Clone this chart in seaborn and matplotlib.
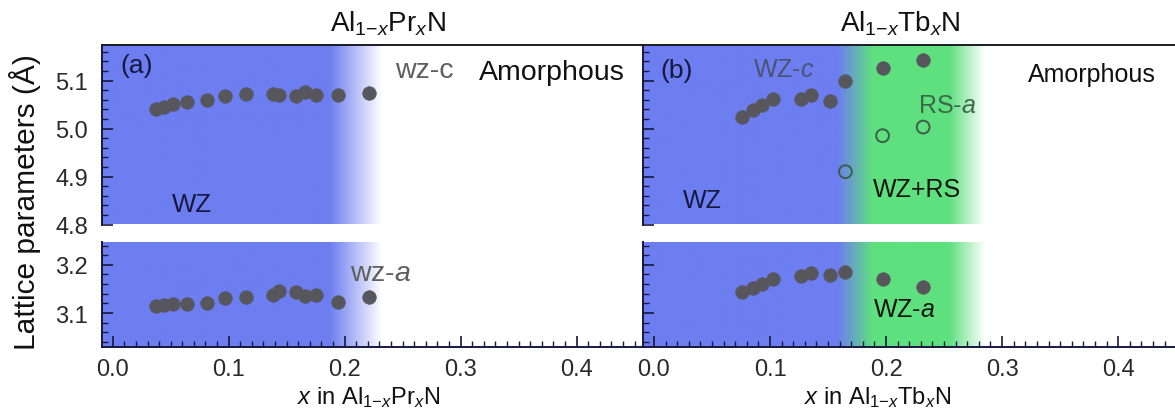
import numpy as np
import pandas as pd
import matplotlib
matplotlib.use("Agg")
import matplotlib.pyplot as plt
import seaborn as sns
from matplotlib.ticker import MultipleLocator, FormatStrFormatter
from matplotlib.colors import to_rgb

# ---------------- data ----------------
pr_x = [0.037, 0.044, 0.052, 0.064, 0.081, 0.097, 0.115, 0.138, 0.143, 0.158, 0.166, 0.175, 0.194, 0.221]
pr_c = [5.041, 5.045, 5.051, 5.055, 5.060, 5.068, 5.071, 5.072, 5.069, 5.067, 5.076, 5.069, 5.070, 5.074]
pr_a = [3.114, 3.117, 3.119, 3.119, 3.120, 3.132, 3.134, 3.137, 3.146, 3.143, 3.136, 3.138, 3.123, 3.133]

tb_x = [0.076, 0.085, 0.093, 0.103, 0.127, 0.135, 0.152, 0.165, 0.197, 0.232]
tb_c = [5.025, 5.038, 5.048, 5.062, 5.062, 5.070, 5.058, 5.098, 5.126, 5.143]
tb_a = [3.144, 3.151, 3.160, 3.170, 3.176, 3.184, 3.179, 3.186, 3.170, 3.154]
tb_rs_x = [0.165, 0.197, 0.232]
tb_rs_a = [4.910, 4.985, 5.003]

top_ticks = [4.8, 4.9, 5.0, 5.1]
bot_ticks = [3.1, 3.2]
x_ticks = [0.0, 0.1, 0.2, 0.3, 0.4]

# ---------------- style ----------------
sns.set_theme(style="white")
plt.rcParams["font.family"] = ["Liberation Sans", "DejaVu Sans"]
plt.rcParams["mathtext.fontset"] = "custom"
plt.rcParams["mathtext.rm"] = "Liberation Sans"
plt.rcParams["mathtext.it"] = "Liberation Sans:italic"
plt.rcParams["mathtext.bf"] = "Liberation Sans:bold"

BLUE = "#6d7ef0"
GREEN = "#5fe07f"
WHITE = "#ffffff"
NAVY = "#16183f"
DOT = "#56565c"

W, H = 1175, 414
fig = plt.figure(figsize=(W / 100, H / 100), dpi=100)

xl_left = (-0.0095, 0.457)
xl_right = (-0.0097, 0.449)
yl_top = (4.8, 5.175)
yl_bot = (3.029, 3.248)

lx, lw = 101.7 / W, 541.0 / W
rx, rw = 642.7 / W, (W - 642.7) / W
tb, th = 1 - 225.5 / H, 180.0 / H
bb, bh = 1 - 348.3 / H, 105.6 / H

ax_lt = fig.add_axes([lx, tb, lw, th])
ax_lb = fig.add_axes([lx, bb, lw, bh])
ax_rt = fig.add_axes([rx, tb, rw, th])
ax_rb = fig.add_axes([rx, bb, rw, bh])


def gradient(ax, xlim, ylim, stops):
    xs = np.linspace(xlim[0], xlim[1], 800)
    pos = [s[0] for s in stops]
    cols = np.array([to_rgb(s[1]) for s in stops])
    img = np.stack([np.interp(xs, pos, cols[:, k]) for k in range(3)], axis=-1)
    img = img[np.newaxis, :, :]
    ax.imshow(img, extent=[xlim[0], xlim[1], ylim[0], ylim[1]], aspect="auto",
              origin="lower", zorder=0, interpolation="bilinear")


left_stops = [(xl_left[0], BLUE), (0.187, BLUE), (0.232, WHITE), (xl_left[1], WHITE)]
right_stops = [(xl_right[0], BLUE), (0.158, BLUE), (0.188, GREEN), (0.254, GREEN),
               (0.285, WHITE), (xl_right[1], WHITE)]

for ax, xl, yl, st in [(ax_lt, xl_left, yl_top, left_stops), (ax_lb, xl_left, yl_bot, left_stops),
                       (ax_rt, xl_right, yl_top, right_stops), (ax_rb, xl_right, yl_bot, right_stops)]:
    gradient(ax, xl, yl, st)

# ---------------- data marks ----------------
df_pr = pd.DataFrame({"x": pr_x, "c": pr_c, "a": pr_a})
df_tb = pd.DataFrame({"x": tb_x, "c": tb_c, "a": tb_a})
df_rs = pd.DataFrame({"x": tb_rs_x, "a": tb_rs_a})

kw = dict(s=95, color=DOT, edgecolor=DOT, linewidth=0.5, zorder=3, legend=False)
sns.scatterplot(data=df_pr, x="x", y="c", ax=ax_lt, **kw)
sns.scatterplot(data=df_pr, x="x", y="a", ax=ax_lb, **kw)
sns.scatterplot(data=df_tb, x="x", y="c", ax=ax_rt, **kw)
sns.scatterplot(data=df_tb, x="x", y="a", ax=ax_rb, **kw)
sns.scatterplot(data=df_rs, x="x", y="a", ax=ax_rt, s=85, facecolors="none",
                edgecolor="#3e5e4c", linewidth=1.4, zorder=3, legend=False)

# ---------------- axes styling ----------------
def style(ax, xl, yl, yt, top, show_ylabels):
    ax.set_xlim(*xl)
    ax.set_ylim(*yl)
    ax.set_xlabel("")
    ax.set_ylabel("")
    ax.set_yticks(yt)
    ax.yaxis.set_minor_locator(MultipleLocator(0.02))
    ax.yaxis.set_major_formatter(FormatStrFormatter("%.1f"))
    ax.set_xticks(x_ticks)
    ax.xaxis.set_minor_locator(MultipleLocator(0.01))
    ax.xaxis.set_major_formatter(FormatStrFormatter("%.1f"))
    for sp in ax.spines.values():
        sp.set_visible(False)
    ax.spines["left"].set_visible(True)
    ax.spines["left"].set_color(NAVY)
    ax.spines["left"].set_linewidth(1.4)
    ax.tick_params(axis="y", which="major", direction="in", length=8, width=1.2,
                   color=NAVY, left=True, labelleft=show_ylabels, labelsize=17,
                   labelcolor="#2a2a2a", pad=10)
    ax.tick_params(axis="y", which="minor", direction="in", length=4.5, width=1.0,
                   color=NAVY, left=True)
    if top:
        ax.spines["top"].set_visible(True)
        ax.spines["top"].set_color("#1a1a24")
        ax.spines["top"].set_linewidth(1.4)
        ax.tick_params(axis="x", which="both", bottom=False, top=False, labelbottom=False)
    else:
        ax.spines["bottom"].set_visible(True)
        ax.spines["bottom"].set_color(NAVY)
        ax.spines["bottom"].set_linewidth(1.4)
        ax.tick_params(axis="x", which="major", direction="in", length=8, width=1.2,
                       color=NAVY, bottom=True, labelbottom=True, labelsize=17,
                       labelcolor="#2a2a2a", pad=8)
        ax.tick_params(axis="x", which="minor", direction="in", length=4.5, width=1.0,
                       color=NAVY, bottom=True)
    ax.grid(False)


style(ax_lt, xl_left, yl_top, top_ticks, True, True)
style(ax_lb, xl_left, yl_bot, bot_ticks, False, True)
style(ax_rt, xl_right, yl_top, top_ticks, True, False)
style(ax_rb, xl_right, yl_bot, bot_ticks, False, False)

# ---------------- annotations ----------------
ax_lt.text(0.0063, 5.133, "(a)", fontsize=19, color=NAVY, ha="left", va="center")
ax_lt.text(0.0512, 4.829, "WZ", fontsize=18.5, color=NAVY, ha="left", va="baseline")
ax_lt.text(0.2434, 5.108, "wz-c", fontsize=20.5, color="#5f5f5f", ha="left", va="baseline")
ax_lt.text(0.3157, 5.1035, "Amorphous", fontsize=20.5, color="#111111", ha="left", va="baseline")
ax_lb.text(0.2046, 3.169, "wz-$a$", fontsize=20.5, color="#5f5f5f", ha="left", va="baseline")

ax_rt.text(0.0052, 5.122, "(b)", fontsize=19, color=NAVY, ha="left", va="center")
ax_rt.text(0.0853, 5.110, "WZ-$c$", fontsize=18, color="#4d5273", ha="left", va="baseline")
ax_rt.text(0.025, 4.836, "WZ", fontsize=18, color=NAVY, ha="left", va="baseline")
ax_rt.text(0.2276, 5.034, "RS-$a$", fontsize=18, color="#3a6a4a", ha="left", va="baseline")
ax_rt.text(0.1888, 4.860, "WZ+RS", fontsize=18, color="#0d140d", ha="left", va="baseline")
ax_rt.text(0.3224, 5.100, "Amorphous", fontsize=18, color="#111111", ha="left", va="baseline")
ax_rb.text(0.1888, 3.093, "WZ-$a$", fontsize=18, color="#0d140d", ha="left", va="baseline")

SUB = "$_{1\\text{\u2212}x}$"
fig.text(388 / W, 1 - 32 / H, "Al" + SUB + "Pr$_x$N", fontsize=20, color="#111111",
         ha="center", va="baseline")
fig.text(900 / W, 1 - 32 / H, "Al" + SUB + "Tb$_x$N", fontsize=20, color="#111111",
         ha="center", va="baseline")
fig.text(369 / W, 1 - 404 / H, "$x$ in Al" + SUB + "Pr$_x$N", fontsize=17, color="#111111",
         ha="center", va="baseline")
fig.text(878 / W, 1 - 404 / H, "$x$ in Al" + SUB + "Tb$_x$N", fontsize=17, color="#111111",
         ha="center", va="baseline")
fig.text(25 / W, 1 - 202 / H, "Lattice parameters (Å)", fontsize=21.5, color="#111111",
         ha="center", va="center", rotation=90)

fig.savefig("out.png", dpi=100)
